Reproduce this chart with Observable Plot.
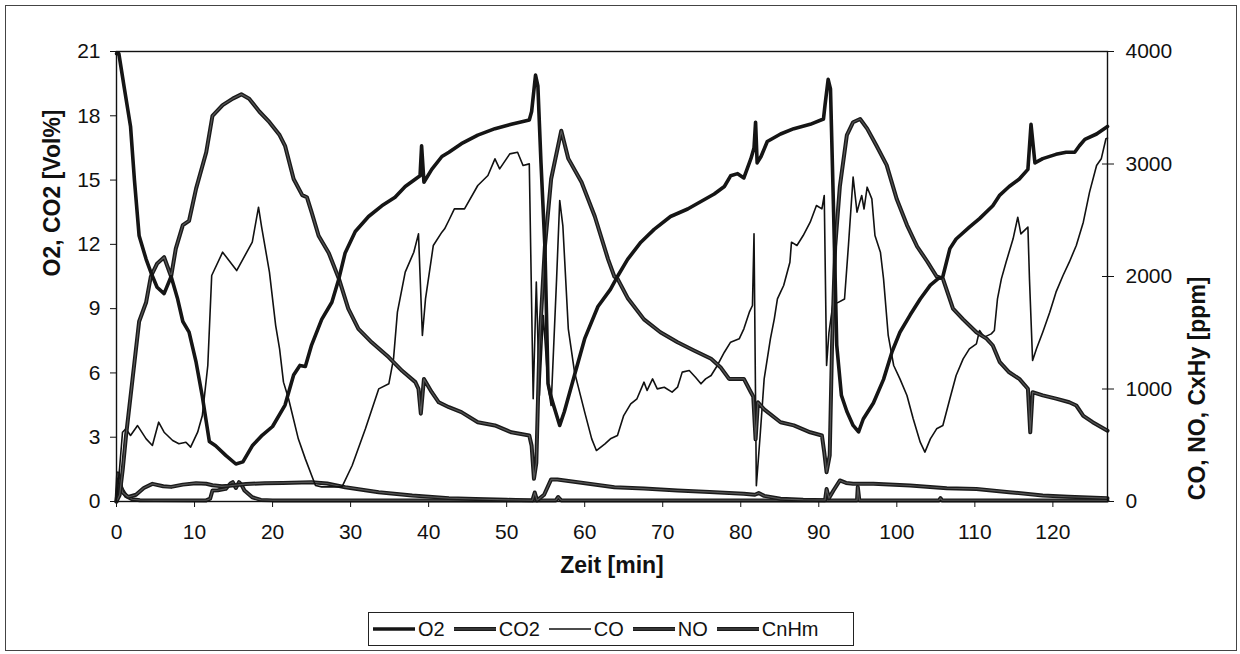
<!DOCTYPE html>
<html><head><meta charset="utf-8">
<script src="https://cdn.jsdelivr.net/npm/d3@7"></script>
<script src="https://cdn.jsdelivr.net/npm/@observablehq/plot@0.6"></script>
<style>
body{margin:0;background:#fff;font-family:Arial,"Liberation Sans",sans-serif;}
#frame{position:absolute;left:5px;top:5px;width:1232px;height:646px;border:1px solid #444;box-sizing:border-box;}
#chart{position:absolute;left:0;top:0;}
#legend{position:absolute;left:368px;top:612px;width:486px;height:34px;border:1.3px solid #222;box-sizing:border-box;display:flex;align-items:center;padding-left:4px;font-size:20px;color:#111;background:#fff;}
#legend .item{display:flex;align-items:center;margin-right:9px;}
#legend svg{margin-right:3px;}
</style>
</head><body>
<div id="frame"></div>
<div id="chart"></div>
<div id="legend"></div>
<script>
// time [min], value
const O2 = [[0,20.9],[0.3,20.9],[1.0,19.3],[1.8,17.5],[2.3,15.0],[2.9,12.4],[3.8,11.3],[4.4,10.7],[5.2,10.0],[6.1,9.7],[7.0,10.5],[7.8,9.5],[8.5,8.4],[9.3,7.9],[10.2,6.5],[11.0,4.9],[11.9,2.8],[12.7,2.6],[14.0,2.15],[15.3,1.75],[16.2,1.85],[17.4,2.6],[18.7,3.1],[20.0,3.5],[21.6,4.5],[22.7,5.9],[23.5,6.35],[24.2,6.3],[25.0,7.3],[26.3,8.5],[27.6,9.3],[28.5,10.4],[29.3,11.6],[30.6,12.6],[32.3,13.3],[34.0,13.8],[35.7,14.2],[37.0,14.7],[38.5,15.1],[38.9,15.2],[39.1,16.6],[39.4,14.9],[40.4,15.5],[41.7,16.1],[42.6,16.3],[44.2,16.7],[46.3,17.1],[48.5,17.4],[50.6,17.6],[52.9,17.8],[53.2,18.2],[53.7,19.9],[54.0,19.4],[54.4,15.8],[54.9,11.9],[55.1,8.8],[55.3,5.5],[55.6,5.0],[56.0,4.5],[56.8,3.55],[57.4,4.2],[58.7,5.9],[60.0,7.6],[61.7,9.1],[63.3,9.9],[64.2,10.5],[65.5,11.3],[67.2,12.1],[68.9,12.7],[71.0,13.3],[73.2,13.65],[74.9,14.0],[76.6,14.35],[77.9,14.7],[78.7,15.2],[79.6,15.3],[80.4,15.1],[81.3,16.0],[81.7,16.5],[81.9,17.7],[82.1,15.8],[82.6,16.1],[83.4,16.8],[85.1,17.15],[86.8,17.4],[88.9,17.6],[90.6,17.85],[90.8,18.5],[91.2,19.7],[91.5,19.25],[91.9,13.5],[92.3,7.3],[92.9,4.95],[93.6,4.2],[94.4,3.55],[95.1,3.25],[95.7,3.85],[97.0,4.6],[98.3,5.7],[99.4,7.0],[100.4,7.9],[101.7,8.7],[103.0,9.45],[104.3,10.1],[105.3,10.4],[105.9,10.5],[106.8,11.8],[107.6,12.25],[109.3,12.8],[110.6,13.2],[112.3,13.8],[113.2,14.3],[114.4,14.7],[115.7,15.05],[116.8,15.5],[117.2,17.6],[117.7,15.8],[118.7,16.0],[120.4,16.2],[121.7,16.3],[122.8,16.3],[123.4,16.6],[124.1,16.9],[125.6,17.15],[127.0,17.5]];
const CO2 = [[0,0],[0.4,0.3],[0.8,1.5],[1.2,3.0],[2.05,5.7],[2.9,8.4],[3.8,9.3],[4.4,10.5],[5.2,11.1],[6.1,11.4],[7.0,10.5],[7.6,11.8],[8.5,12.9],[9.3,13.1],[10.2,14.6],[11.5,16.3],[12.3,18.0],[13.6,18.5],[14.9,18.8],[16.0,19.0],[17.0,18.8],[18.3,18.2],[19.6,17.7],[20.9,17.1],[21.6,16.6],[22.7,15.05],[23.8,14.3],[24.4,14.2],[25.0,13.5],[25.9,12.4],[27.2,11.6],[28.5,10.4],[29.7,9.0],[31.0,8.06],[32.7,7.43],[34.9,6.73],[36.6,6.1],[38.3,5.57],[38.7,5.26],[39.0,4.1],[39.4,5.72],[40.4,5.1],[41.3,4.63],[42.6,4.4],[44.2,4.17],[46.3,3.7],[48.5,3.55],[50.6,3.23],[52.9,3.08],[53.2,2.6],[53.5,1.06],[53.8,1.8],[54.2,7.3],[54.9,11.9],[55.7,15.05],[57.0,17.3],[57.9,16.0],[59.6,14.9],[61.3,13.3],[63.0,11.3],[63.8,10.5],[64.2,10.4],[65.5,9.5],[67.6,8.5],[69.7,7.9],[71.9,7.43],[74.0,7.05],[76.2,6.66],[77.4,6.27],[78.5,5.72],[80.4,5.72],[81.3,5.1],[81.6,4.9],[81.9,2.9],[82.2,4.63],[83.0,4.3],[85.1,3.7],[86.8,3.55],[88.9,3.23],[90.4,3.08],[90.7,2.3],[91.0,1.37],[91.4,2.15],[91.7,7.3],[92.1,11.9],[92.7,14.7],[93.6,17.1],[94.4,17.7],[95.3,17.85],[96.2,17.4],[97.4,16.6],[98.7,15.7],[100.0,14.1],[101.3,12.9],[102.6,11.9],[103.9,11.2],[105.1,10.5],[105.9,10.4],[107.2,9.0],[108.5,8.5],[110.2,7.9],[111.5,7.6],[112.3,7.28],[113.2,6.5],[114.4,6.03],[115.7,5.72],[116.8,5.26],[117.1,3.23],[117.4,5.1],[118.7,4.95],[120.4,4.8],[122.1,4.63],[123.0,4.48],[123.9,4.0],[125.1,3.7],[127.0,3.3]];
// ppm series
const CO = [[0,0],[0.4,300],[0.77,616],[1.2,646],[1.8,587],[2.7,675],[3.8,557],[4.6,498],[5.4,705],[6.1,616],[7.2,542],[8.0,513],[8.9,527],[9.5,483],[10.4,616],[11.0,764],[11.7,1209],[12.2,2009],[13.6,2216],[15.4,2053],[17.4,2305],[18.2,2616],[18.6,2439],[19.6,2039],[20.4,1564],[20.9,1357],[21.4,1061],[22.05,913],[23.3,557],[24.2,379],[25.5,142],[26.3,130],[28.9,130],[30.2,320],[31.9,646],[33.6,1001],[34.9,1046],[35.5,1268],[36.0,1683],[37.0,2039],[38.1,2216],[38.7,2379],[39.2,1476],[39.6,1801],[40.6,2276],[41.7,2394],[42.05,2424],[42.6,2500],[43.3,2601],[44.6,2601],[46.3,2809],[47.6,2898],[48.5,3046],[49.1,2957],[50.4,3090],[51.4,3105],[52.1,2987],[52.9,3001],[53.4,913],[53.8,1950],[54.2,942],[54.7,1653],[55.3,1031],[55.7,853],[56.4,1979],[56.8,2676],[57.2,2453],[57.9,1535],[58.7,1150],[60.0,794],[60.9,557],[61.5,453],[62.6,513],[63.3,557],[64.2,587],[65.0,764],[65.9,868],[66.7,913],[67.6,1061],[68.0,987],[68.7,1090],[69.3,1001],[70.2,1016],[71.2,972],[71.9,1016],[72.5,1150],[73.4,1164],[74.2,1105],[74.9,1046],[75.5,1090],[76.2,1120],[77.0,1209],[77.9,1327],[78.7,1416],[79.8,1446],[80.4,1535],[81.1,1683],[81.5,1742],[81.7,2379],[82.0,140],[82.5,600],[83.0,1090],[83.8,1446],[84.3,1624],[84.7,1801],[85.1,1861],[85.5,1920],[86.3,2127],[86.5,2305],[87.2,2276],[88.0,2364],[88.9,2483],[89.7,2631],[90.4,2601],[90.7,2720],[91.0,1209],[91.3,1500],[91.8,1750],[92.5,1770],[93.3,1800],[93.8,2276],[94.4,2883],[94.9,2572],[95.2,2650],[95.5,2720],[95.8,2600],[96.2,2794],[96.8,2690],[97.2,2364],[97.9,2216],[98.3,1979],[98.9,1476],[99.6,1209],[100.4,1090],[101.3,942],[102.1,735],[103.0,527],[103.6,439],[104.3,557],[105.1,646],[105.9,675],[106.8,913],[107.6,1120],[108.5,1268],[109.3,1357],[110.2,1401],[110.6,1520],[111.2,1461],[112.1,1490],[112.5,1520],[112.9,1801],[113.4,1979],[114.0,2127],[114.9,2335],[115.5,2527],[115.9,2379],[116.8,2439],[117.0,1979],[117.4,1253],[117.9,1357],[118.7,1505],[119.6,1683],[120.4,1861],[121.3,2009],[122.1,2127],[123.0,2276],[123.9,2483],[124.7,2750],[125.6,2987],[126.2,3046],[126.8,3224],[127.0,3230]];
const NO = [[0,0],[0.3,200],[0.8,80],[1.5,40],[2.5,60],[3.5,120],[4.6,157],[6.0,135],[7.0,130],[8.5,150],[10.2,163],[11.5,158],[12.3,145],[13.5,135],[14.5,140],[16.6,155],[19.0,163],[21.3,165],[25.0,172],[27.0,160],[29.3,127],[33.6,83],[37.9,53],[42.6,30],[46,22],[50,15],[53.3,10],[53.6,80],[53.9,10],[54.8,60],[55.7,196],[56.5,195],[59.1,172],[63.8,127],[67.6,115],[71.9,98],[76,85],[80.4,68],[81.8,60],[82.3,75],[83.0,50],[85.1,24],[88,15],[90.8,12],[91.0,112],[91.3,30],[91.9,100],[92.7,187],[93.5,165],[94.4,157],[97.0,158],[101.7,142],[106.4,118],[110.2,112],[114.4,83],[118.7,53],[122,42],[127,30]];
const CnHm = [[0,0],[0.2,250],[0.6,120],[1.2,50],[2.0,20],[3.0,12],[5,10],[11.5,10],[12.0,25],[12.3,98],[13.0,100],[14.0,112],[14.6,160],[14.9,172],[15.3,120],[15.7,172],[16.0,150],[16.4,98],[17.4,38],[18.5,14],[20,10],[56.3,10],[56.6,40],[57.0,10],[94.9,10],[95.0,130],[95.2,10],[105.4,10],[105.6,30],[105.8,10],[127,10]];

const xTicks = [0,10,20,30,40,50,60,70,80,90,100,110,120];
const leftTicks = [0,3,6,9,12,15,18,21];
const rightTicks = [0,1000,2000,3000,4000];
const k = 21/4000; // ppm -> Vol% axis

const font = 'Arial, "Liberation Sans", sans-serif';
const dark = "#1a1a1a", inner = "#555";

const chart = Plot.plot({
  width: 1240, height: 600,
  marginLeft: 116, marginRight: 133, marginTop: 51, marginBottom: 99,
  style: {fontFamily: font, fontSize: "21px", background: "transparent", color: "#111"},
  x: {domain: [0, 127]},
  y: {domain: [0, 21]},
  marks: [
    Plot.axisX({ticks: xTicks, tickSize: 6, tickPadding: 17, label: null, fontSize: 21}),
    Plot.axisY({ticks: leftTicks, tickSize: 6, tickPadding: 10, label: null, fontSize: 21}),
    Plot.axisY({anchor: "right", ticks: rightTicks.map(p => p * k), tickFormat: d => String(Math.round(d / k)), tickSize: 12, dx: -6, tickPadding: 12, label: null, fontSize: 21}),
    Plot.line(CnHm, {x: d => d[0], y: d => d[1] * k, stroke: dark, strokeWidth: 4, strokeLinejoin: "round"}),
    Plot.line(CnHm, {x: d => d[0], y: d => d[1] * k, stroke: inner, strokeWidth: 1.2, strokeLinejoin: "round"}),
    Plot.line(NO, {x: d => d[0], y: d => d[1] * k, stroke: dark, strokeWidth: 4, strokeLinejoin: "round"}),
    Plot.line(NO, {x: d => d[0], y: d => d[1] * k, stroke: inner, strokeWidth: 1.2, strokeLinejoin: "round"}),
    Plot.line(CO, {x: d => d[0], y: d => d[1] * k, stroke: "#111", strokeWidth: 1.6, strokeLinejoin: "round"}),
    Plot.line(CO2, {x: d => d[0], y: d => d[1], stroke: dark, strokeWidth: 4, strokeLinejoin: "round"}),
    Plot.line(CO2, {x: d => d[0], y: d => d[1], stroke: inner, strokeWidth: 1.2, strokeLinejoin: "round"}),
    Plot.line(O2, {x: d => d[0], y: d => d[1], stroke: "#151515", strokeWidth: 3.6, strokeLinejoin: "round"}),
    Plot.frame({stroke: "#111", strokeWidth: 1.4}),
    Plot.text(["O2, CO2 [Vol%]"], {frameAnchor: "left", rotate: -90, dx: -64, fontWeight: "bold", fontSize: 23, fill: "#111"}),
    Plot.text(["CO, NO, CxHy [ppm]"], {frameAnchor: "right", rotate: -90, dx: 90, fontWeight: "bold", fontSize: 23, fill: "#111"}),
    Plot.text(["Zeit [min]"], {frameAnchor: "bottom", dy: 71, fontWeight: "bold", fontSize: 23, fill: "#111"})
  ]
});
document.getElementById("chart").appendChild(chart);

// legend
const legendItems = [
  {name: "O2", w: 3.6, c: "#151515", in: null},
  {name: "CO2", w: 4, c: dark, in: inner},
  {name: "CO", w: 1.6, c: "#111", in: null},
  {name: "NO", w: 4, c: dark, in: inner},
  {name: "CnHm", w: 4, c: dark, in: inner}
];
const leg = d3.select("#legend");
for (const it of legendItems) {
  const item = leg.append("div").attr("class", "item");
  const s = item.append("svg").attr("width", 42).attr("height", 10);
  s.append("line").attr("x1", 0).attr("x2", 42).attr("y1", 5).attr("y2", 5).attr("stroke", it.c).attr("stroke-width", it.w);
  if (it.in) s.append("line").attr("x1", 0).attr("x2", 42).attr("y1", 5).attr("y2", 5).attr("stroke", it.in).attr("stroke-width", 1.2);
  item.append("span").text(it.name);
}
</script>
</body></html>
